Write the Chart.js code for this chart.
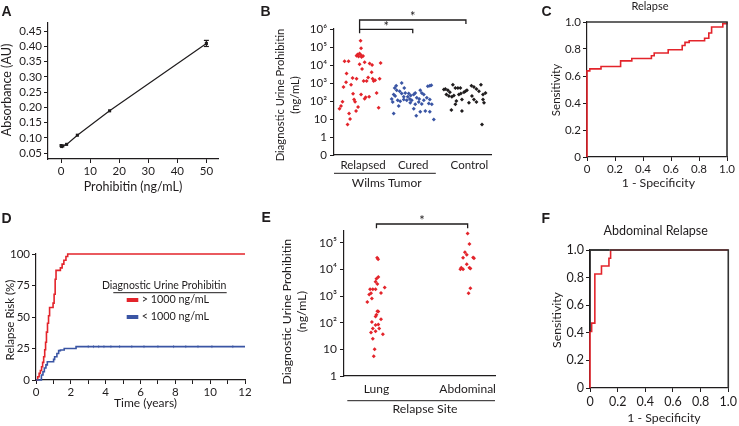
<!DOCTYPE html>
<html>
<head>
<meta charset="utf-8">
<script src="https://cdn.jsdelivr.net/npm/chart.js@4.4.1/dist/chart.umd.min.js"></script>
<style>
  html, body { margin: 0; padding: 0; background: #fff; }
  #wrap { position: relative; width: 739px; height: 426px; overflow: hidden; background: #fff; }
  #wrap canvas { position: absolute; left: 0; top: 0; }
</style>
</head>
<body>
<div id="wrap">
  <canvas id="chartA" width="739" height="426"></canvas>
  <canvas id="chartB" width="739" height="426"></canvas>
  <canvas id="chartC" width="739" height="426"></canvas>
  <canvas id="chartD" width="739" height="426"></canvas>
  <canvas id="chartE" width="739" height="426"></canvas>
  <canvas id="chartF" width="739" height="426"></canvas>
</div>
<script>
// ---- A: standard curve ----
const stdConc = [0, 0.2, 0.6, 1.9, 5.6, 16.7, 50];
const stdAbs = [0.075, 0.072, 0.074, 0.079, 0.109, 0.189, 0.41];
const stdErr = [0.004, 0.003, 0.002, 0.002, 0.002, 0.002, 0.01];
const aXTicks = [0, 10, 20, 30, 40, 50];
const aYTicks = [0.05, 0.10, 0.15, 0.20, 0.25, 0.30, 0.35, 0.40, 0.45];

// ---- B: diagnostic urine prohibitin (ng/mL) ----
const groupLabels = ['Relapsed', 'Cured', 'Control'];
const groupPos = [1, 2, 3.12];
const relapsedX = [0.95, 0.96, 0.89, 0.93, 0.96, 1.0, 0.91, 0.87, 0.97, 0.63, 0.71, 1.35, 1.03, 0.93, 1.13, 1.18,
  0.98, 0.67, 1.17, 0.79, 0.87, 1.33, 1.19, 1.21, 1.24, 1.01, 1.07, 0.66, 0.61, 0.76, 0.96, 1.27, 1.03, 1.12,
  0.82, 0.84, 0.59, 0.56, 0.53, 1.31, 0.90, 0.86, 0.74, 0.69, 0.8, 1.05, 0.72, 1.1];
const relapsedY = [220000, 85000, 38000, 43000, 35000, 32000, 30000, 33000, 28000, 16000, 16000, 13000, 14000, 11000, 12000, 10000,
  5900, 3400, 4000, 1900, 1700, 1700, 1700, 1300, 1400, 1300, 1300, 1100, 600, 800, 230, 280, 135, 175,
  120, 90, 90, 52, 37, 42, 46, 28, 10, 5, 250, 160, 20, 2000];
const curedX = [1.77, 1.66, 1.63, 1.67, 1.73, 1.82, 1.84, 1.91, 1.95, 2.01, 2.04, 2.14, 2.17, 2.21, 2.29, 2.33, 2.36,
  1.61, 1.64, 1.69, 1.74, 1.81, 1.87, 1.93, 1.97, 2.07, 2.12, 2.21, 2.27, 2.33, 1.59, 1.57, 1.94, 2.04, 2.11,
  2.17, 2.31, 2.37, 2.01, 1.71, 1.61, 2.14, 2.06, 2.24, 2.33, 2.41, 1.81, 1.89, 1.77];
const curedY = [1000, 710, 520, 400, 350, 520, 280, 260, 200, 230, 280, 400, 280, 230, 660, 710, 740,
  230, 190, 110, 98, 120, 110, 130, 110, 150, 130, 110, 150, 120, 89, 130, 79, 65, 87,
  69, 72, 65, 37, 52, 20, 25, 15, 28, 25, 9.5, 170, 170, 260];
const controlX = [2.64, 2.69, 2.73, 2.79, 2.84, 2.89, 2.94, 2.66, 2.71, 2.77, 2.81, 2.91, 2.95, 3.01, 3.04, 3.07,
  3.16, 3.21, 3.26, 3.31, 3.35, 3.44, 3.39, 3.17, 3.21, 3.26, 3.11, 3.39, 3.41, 2.84, 2.76, 2.97, 3.37, 2.61,
  2.86, 2.97];
const controlY = [470, 400, 310, 810, 520, 520, 520, 230, 190, 170, 200, 230, 260, 310, 350, 400,
  710, 600, 470, 350, 810, 280, 230, 190, 120, 87, 79, 120, 79, 65, 32, 28, 5, 430,
  100, 120];
const bYTicks = [0.1, 1, 10, 100, 1000, 10000, 100000, 1000000];
const bYLabels = ['0', '1', '10', '10²', '10³', '10⁴', '10⁵', '10⁶'];

// ---- C: ROC, relapse ----
const rocRelFpr = [0, 0, 0.02, 0.10, 0.24, 0.32, 0.46, 0.48, 0.58, 0.68, 0.70, 0.73, 0.84, 0.87, 0.89, 0.97, 1.0];
const rocRelTpr = [0, 0.638, 0.653, 0.67, 0.712, 0.73, 0.75, 0.77, 0.794, 0.826, 0.849, 0.861, 0.88, 0.918, 0.963, 0.988, 1.0];
const rocTicks = [0, 0.2, 0.4, 0.6, 0.8, 1.0];
const rocLabels = ['0', '0.2', '0.4', '0.6', '0.8', '1.0'];

// ---- D: relapse risk over time ----
const highT = [0, 0.1, 0.18, 0.25, 0.32, 0.38, 0.44, 0.5, 0.55, 0.6, 0.66, 0.72, 0.78, 0.98, 1.04, 1.1, 1.15, 1.4, 1.5, 1.6, 1.72, 1.82, 12];
const highRisk = [0, 2.6, 5.3, 7.5, 10.5, 14, 18.5, 24, 30, 38, 45, 51, 57.5, 61, 68, 80, 87, 89, 92, 95, 98, 100, 100];
const lowT = [0, 0.25, 0.31, 0.40, 0.48, 0.57, 0.65, 1.01, 1.07, 1.2, 1.3, 1.4, 1.62, 2.3, 12];
const lowRisk = [0, 0, 4, 6.6, 9.5, 12, 14.5, 16.4, 18.5, 21, 23.3, 23.8, 25, 26.5, 26.5];
const lowCensorT = [3.0, 3.3, 3.6, 3.9, 4.3, 4.8, 5.5, 6.2, 7.0, 7.9, 8.6, 9.3, 10.1, 11.3];
const dXTicks = [0, 1, 2, 3, 4, 5, 6, 7, 8, 9, 10, 11, 12];
const dXLabels = ['0', '', '2', '', '4', '', '6', '', '8', '', '10', '', '12'];
const dYTicks = [0, 25, 50, 75, 100];

// ---- E: relapse site ----
const siteLabels = ['Lung', 'Abdominal'];
const lungX = [1.007, 1.018, 1.02, 1.0, 0.99, 1.09, 0.93, 0.96, 0.99, 0.94, 0.92, 1.05, 0.95, 0.9, 1.01, 1.02,
  1.0, 0.99, 1.05, 0.95, 0.99, 1.02, 0.96, 1.03, 0.94, 0.99, 1.07, 0.96, 0.98, 0.97, 1.01];
const lungY = [27500, 24000, 5200, 4400, 3400, 2100, 1800, 1800, 1800, 1260, 1150, 1290, 810, 600, 270, 260,
  200, 170, 135, 107, 81, 85, 60, 60, 43, 48, 37, 25, 10, 5.5, 2800];
const abdX = [2.0, 2.02, 1.97, 1.99, 1.95, 2.06, 2.07, 1.99, 1.93, 1.92, 1.95, 2.02, 2.03, 2.03, 2.01];
const abdY = [220000, 90000, 44000, 35000, 27500, 28000, 26000, 15500, 11500, 10200, 10000, 11500, 10700, 1950, 1260];
const eYTicks = [1, 10, 100, 1000, 10000, 100000];
const eYLabels = ['1', '10', '10²', '10³', '10⁴', '10⁵'];

// ---- F: ROC, abdominal relapse ----
const rocAbdFpr = [0, 0, 0.012, 0.035, 0.083, 0.137, 0.149, 1.0];
const rocAbdTpr = [0, 0.41, 0.47, 0.826, 0.884, 0.94, 1.0, 1.0];
const rocRefFpr = [0, 0, 0.14];
const rocRefTpr = [0.41, 1.0, 1.0];

const W = 739, H = 426;
const RED = '#e3242b', BLUE = '#3a55a4', INK = '#1f1c1d';
const FONT = 'Lato, "Open Sans", sans-serif';

Chart.defaults.font.family = FONT;
Chart.defaults.font.size = 11;
Chart.defaults.color = INK;
Chart.defaults.animation = false;
Chart.defaults.responsive = false;
Chart.defaults.plugins.legend.display = false;
Chart.defaults.plugins.tooltip.enabled = false;

function pts(xs, ys) { return xs.map((x, i) => ({ x: x, y: ys[i] })); }

// puts the plot area exactly on box
function frame(box, yw, xh) {
  return { padding: { left: box.l - yw, top: box.t, right: W - box.r, bottom: H - box.b - xh } };
}

function axis(o) {
  const horiz = o.pos === 'bottom';
  return {
    type: o.type || 'linear',
    position: o.pos,
    min: o.min, max: o.max,
    bounds: 'data',
    border: { display: true, color: INK, width: 1.2 },
    grid: { display: true, drawOnChartArea: false, drawTicks: o.drawTicks !== false, tickLength: 4, color: INK, lineWidth: 1 },
    ticks: {
      autoSkip: false, maxRotation: 0, padding: o.pad == null ? 2 : o.pad, color: INK, font: { size: o.fs || 11 },
      callback: (v, i) => o.labels ? o.labels[i] : String(v)
    },
    afterBuildTicks: s => { s.ticks = o.ticks.map(v => ({ value: v })); },
    afterFit: s => { if (horiz) s.height = o.size; else s.width = o.size; }
  };
}

function text(ctx, s, x, y, opt) {
  opt = opt || {};
  ctx.save();
  ctx.font = (opt.fs || 11) + 'px ' + FONT;
  if (opt.font) ctx.font = opt.font;
  ctx.fillStyle = opt.color || INK;
  ctx.textAlign = opt.align || 'center';
  ctx.textBaseline = 'middle';
  ctx.translate(x, y);
  if (opt.rot) ctx.rotate(-Math.PI / 2);
  ctx.fillText(s, 0, 0);
  ctx.restore();
}

function path(ctx, list, w, color) {
  ctx.save();
  ctx.strokeStyle = color || INK;
  ctx.lineWidth = w || 1.2;
  ctx.beginPath();
  list.forEach((p, i) => i ? ctx.lineTo(p[0], p[1]) : ctx.moveTo(p[0], p[1]));
  ctx.stroke();
  ctx.restore();
}

function letter(ctx, s, x, y) {
  text(ctx, s, x, y, { font: 'bold 14px "Liberation Sans", Arial, sans-serif', align: 'left' });
}

function boxOutline(chart) {
  const a = chart.chartArea, ctx = chart.ctx;
  path(ctx, [[a.left, a.top], [a.right, a.top], [a.right, a.bottom]], 1.6, '#333');
}

const boxA = { l: 48, r: 218, t: 23, b: 159 };
const boxB = { l: 334, r: 491, t: 29, b: 155 };
const boxC = { l: 587, r: 727, t: 22, b: 157 };
const boxD = { l: 36, r: 245, t: 254, b: 380 };
const boxE = { l: 344, r: 495, t: 231, b: 376 };
const boxF = { l: 590, r: 731, t: 250, b: 388 };

// ---------------- A ----------------
new Chart(document.getElementById('chartA'), {
  type: 'scatter',
  data: {
    datasets: [{
      data: pts(stdConc, stdAbs),
      showLine: true, borderColor: INK, borderWidth: 1.2,
      pointStyle: 'rect', pointRadius: 2.2, backgroundColor: INK, pointBorderWidth: 0
    }]
  },
  options: {
    layout: frame(boxA, 40, 20),
    scales: {
      x: axis({ pos: 'bottom', min: -4.5, max: 54, ticks: aXTicks, size: 20, pad: 1, fs: 11.5 }),
      y: axis({ pos: 'left', min: 0.031, max: 0.477, ticks: aYTicks, labels: aYTicks.map(v => v.toFixed(2)), size: 40, fs: 11.5 })
    }
  },
  plugins: [{
    id: 'annoA',
    afterDatasetsDraw(chart) {
      const ctx = chart.ctx, xs = chart.scales.x, ys = chart.scales.y;
      stdConc.forEach((c, i) => {
        if (stdErr[i] < 0.005) return;
        const x = xs.getPixelForValue(c);
        const y1 = ys.getPixelForValue(stdAbs[i] - stdErr[i]);
        const y2 = ys.getPixelForValue(stdAbs[i] + stdErr[i]);
        path(ctx, [[x, y1], [x, y2]], 1.2);
        path(ctx, [[x - 2.5, y1], [x + 2.5, y1]], 1.2);
        path(ctx, [[x - 2.5, y2], [x + 2.5, y2]], 1.2);
      });
    },
    afterDraw(chart) {
      const ctx = chart.ctx;
      letter(ctx, 'A', 1.5, 12);
      text(ctx, 'Absorbance (AU)', 6.5, 90, { rot: true, fs: 12.5 });
      text(ctx, 'Prohibitin (ng/mL)', 133, 186.5, { fs: 12.5 });
    }
  }]
});

// ---------------- B ----------------
new Chart(document.getElementById('chartB'), {
  type: 'scatter',
  data: {
    datasets: [
      { data: pts(relapsedX, relapsedY), pointStyle: 'rectRot', pointRadius: 2, backgroundColor: RED, borderWidth: 0 },
      { data: pts(curedX, curedY), pointStyle: 'rectRot', pointRadius: 2, backgroundColor: BLUE, borderWidth: 0 },
      { data: pts(controlX, controlY), pointStyle: 'rectRot', pointRadius: 2, backgroundColor: INK, borderWidth: 0 }
    ]
  },
  options: {
    layout: frame(boxB, 40, 20),
    scales: {
      x: axis({ pos: 'bottom', min: 0.42, max: 3.55, ticks: groupPos, labels: groupLabels, size: 20, drawTicks: false, pad: 3, fs: 11.5 }),
      y: axis({ pos: 'left', type: 'logarithmic', min: 0.1, max: 1000000, ticks: bYTicks, labels: bYLabels, size: 40, pad: 3, fs: 11.5 })
    }
  },
  plugins: [{
    id: 'annoB',
    afterDraw(chart) {
      const ctx = chart.ctx, xs = chart.scales.x, a = chart.chartArea;
      const xr = xs.getPixelForValue(0.93), xc = xs.getPixelForValue(1.99), xk = xs.getPixelForValue(3.05);
      path(ctx, [[xr, 33.3], [xr, 20], [xk, 20], [xk, 24]], 1.3);
      path(ctx, [[xr, 29.3], [xc, 29.3], [xc, 33.3]], 1.3);
      text(ctx, '*', (xr + xk) / 2, 17, { font: '13px ' + FONT });
      text(ctx, '*', (xr + xc) / 2, 26.5, { font: '13px ' + FONT });
      path(ctx, [[a.left, 173.3], [xs.getPixelForValue(2.45), 173.3]], 1);
      text(ctx, 'Wilms Tumor', 386.7, 183, { fs: 12 });
      text(ctx, 'Diagnostic Urine Prohibitin', 280.7, 95, { rot: true, fs: 11.2 });
      text(ctx, '(ng/mL)', 295, 95, { rot: true, fs: 11.2 });
      letter(ctx, 'B', 260.5, 12);
    }
  }]
});

// ---------------- C ----------------
new Chart(document.getElementById('chartC'), {
  type: 'scatter',
  data: {
    datasets: [{
      data: pts(rocRelFpr, rocRelTpr), showLine: true, stepped: 'before',
      borderColor: RED, borderWidth: 1.6, pointRadius: 0, clip: 4
    }]
  },
  options: {
    layout: frame(boxC, 40, 20),
    scales: {
      x: axis({ pos: 'bottom', min: 0, max: 1, ticks: rocTicks, labels: rocLabels, size: 20, pad: 1, fs: 11.5 }),
      y: axis({ pos: 'left', min: 0, max: 1, ticks: rocTicks, labels: rocLabels, size: 40, fs: 11.5 })
    }
  },
  plugins: [{
    id: 'annoC',
    afterDraw(chart) {
      const ctx = chart.ctx;
      boxOutline(chart);
      letter(ctx, 'C', 541.5, 12);
      text(ctx, 'Relapse', 650, 6);
      text(ctx, 'Sensitivity', 556.7, 90, { rot: true, fs: 11.5 });
      text(ctx, '1 - Specificity', 658.3, 183.3, { fs: 12.3 });
    }
  }]
});

// ---------------- D ----------------
new Chart(document.getElementById('chartD'), {
  type: 'scatter',
  data: {
    datasets: [
      { data: pts(lowT, lowRisk), showLine: true, stepped: 'before', borderColor: BLUE, borderWidth: 1.6, pointRadius: 0, clip: 4 },
      { data: lowCensorT.map(t => ({ x: t, y: lowRisk[lowRisk.length - 1] })), pointStyle: 'line', rotation: 90,
        pointRadius: 1.5, borderColor: 'rgba(58,85,164,0.6)', borderWidth: 1 },
      { data: pts(highT, highRisk), showLine: true, stepped: 'before', borderColor: RED, borderWidth: 1.6, pointRadius: 0, clip: 4 }
    ]
  },
  options: {
    layout: frame(boxD, 30, 20),
    scales: {
      x: axis({ pos: 'bottom', min: 0, max: 12, ticks: dXTicks, labels: dXLabels, size: 20, pad: 1, fs: 11.5 }),
      y: axis({ pos: 'left', min: 0, max: 100, ticks: dYTicks, size: 30, fs: 11.5 })
    }
  },
  plugins: [{
    id: 'annoD',
    afterDraw(chart) {
      const ctx = chart.ctx;
      letter(ctx, 'D', 1.5, 219);
      text(ctx, 'Relapse Risk (%)', 10, 320, { rot: true, fs: 11.5 });
      text(ctx, 'Time (years)', 145.5, 403.3, { fs: 12 });
      text(ctx, 'Diagnostic Urine Prohibitin', 164.2, 286, { fs: 10.5 });
      path(ctx, [[113.3, 292.7], [226.7, 292.7]], 1);
      ctx.fillStyle = RED;
      ctx.fillRect(126.7, 298, 11.6, 4);
      ctx.fillStyle = BLUE;
      ctx.fillRect(126.7, 315, 11.6, 4);
      text(ctx, '> 1000 ng/mL', 141.7, 300, { align: 'left', fs: 10.8 });
      text(ctx, '< 1000 ng/mL', 141.7, 317, { align: 'left', fs: 10.8 });
    }
  }]
});

// ---------------- E ----------------
new Chart(document.getElementById('chartE'), {
  type: 'scatter',
  data: {
    datasets: [
      { data: pts(lungX, lungY), pointStyle: 'rectRot', pointRadius: 2, backgroundColor: RED, borderWidth: 0 },
      { data: pts(abdX, abdY), pointStyle: 'rectRot', pointRadius: 2, backgroundColor: RED, borderWidth: 0 }
    ]
  },
  options: {
    layout: frame(boxE, 40, 20),
    scales: {
      x: axis({ pos: 'bottom', min: 0.644, max: 2.3, ticks: [1, 2], labels: siteLabels, size: 20, drawTicks: false, pad: 6, fs: 12 }),
      y: axis({ pos: 'left', type: 'logarithmic', min: 1, max: 275000, ticks: eYTicks, labels: eYLabels, size: 40, pad: 3, fs: 12 })
    }
  },
  plugins: [{
    id: 'annoE',
    afterDraw(chart) {
      const ctx = chart.ctx, xs = chart.scales.x;
      const x1 = xs.getPixelForValue(1), x2 = xs.getPixelForValue(2);
      path(ctx, [[x1, 228.3], [x1, 224], [x2, 224], [x2, 228.3]], 1.3);
      text(ctx, '*', (x1 + x2) / 2, 221, { font: '13px ' + FONT });
      path(ctx, [[347.3, 400.7], [495, 400.7]], 1);
      text(ctx, 'Relapse Site', 425, 409.5, { fs: 12.3 });
      text(ctx, 'Diagnostic Urine Prohibitin', 286.7, 311.7, { rot: true, fs: 12.3 });
      text(ctx, '(ng/mL)', 301.7, 311.7, { rot: true, fs: 12.3 });
      letter(ctx, 'E', 261.5, 218.5);
    }
  }]
});

// ---------------- F ----------------
new Chart(document.getElementById('chartF'), {
  type: 'scatter',
  data: {
    datasets: [
      { data: pts(rocRefFpr, rocRefTpr), showLine: true, borderColor: INK, borderWidth: 1.6, pointRadius: 0, clip: 4 },
      { data: pts(rocAbdFpr, rocAbdTpr), showLine: true, stepped: 'before', borderColor: RED, borderWidth: 1.6, pointRadius: 0, clip: 4 }
    ]
  },
  options: {
    layout: frame(boxF, 40, 20),
    scales: {
      x: axis({ pos: 'bottom', min: 0, max: 1, ticks: rocTicks, labels: rocLabels, size: 20, pad: 2, fs: 12.5 }),
      y: axis({ pos: 'left', min: 0, max: 1, ticks: rocTicks, labels: rocLabels, size: 40, fs: 12.5 })
    }
  },
  plugins: [{
    id: 'annoF',
    afterDraw(chart) {
      const ctx = chart.ctx;
      boxOutline(chart);
      letter(ctx, 'F', 541.5, 219);
      text(ctx, 'Abdominal Relapse', 655.7, 230.7, { fs: 12.5 });
      text(ctx, 'Sensitivity', 556.7, 320, { rot: true, fs: 12.3 });
      text(ctx, '1 - Specificity', 664, 418.3, { fs: 12.3 });
    }
  }]
});
</script>
</body>
</html>
